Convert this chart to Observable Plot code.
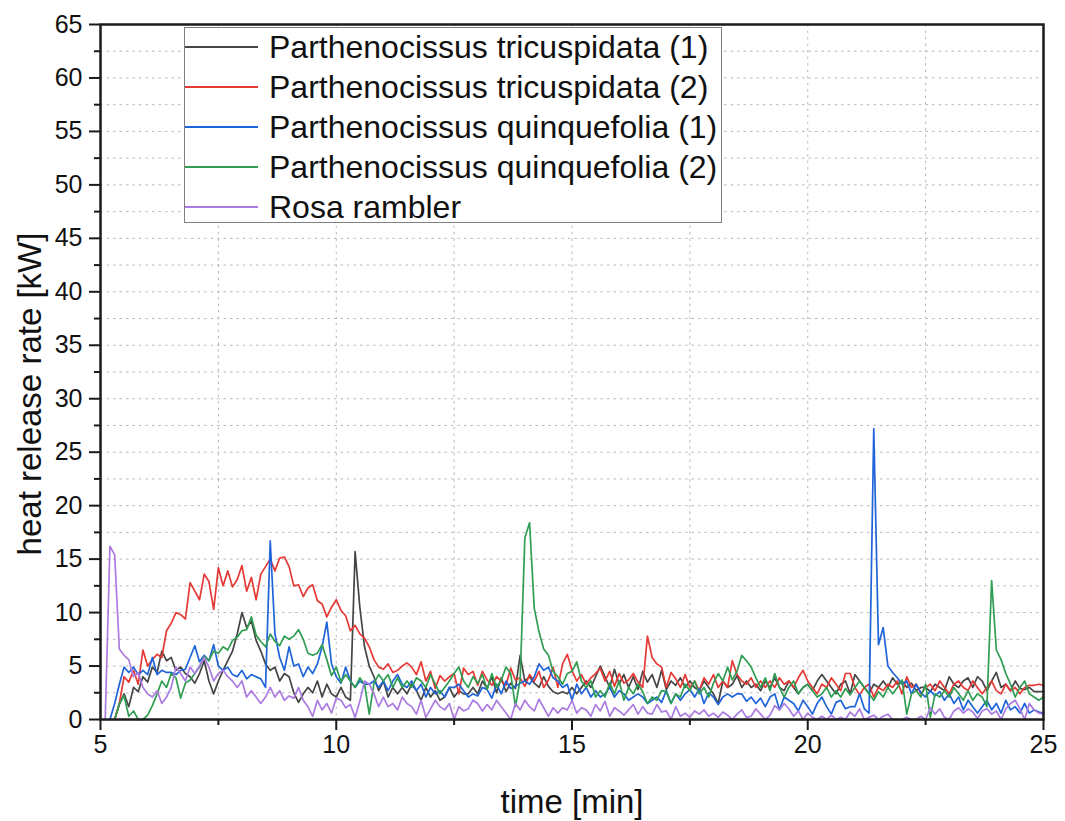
<!DOCTYPE html>
<html><head><meta charset="utf-8">
<script src="https://cdn.jsdelivr.net/npm/d3@7"></script>
<script src="https://cdn.jsdelivr.net/npm/@observablehq/plot@0.6"></script>
<style>
body{margin:0;background:#fff;font-family:"Liberation Sans",Arial,sans-serif;}
#wrap{position:relative;width:1065px;height:821px;}
#legend{position:absolute;left:184px;top:27px;width:538px;height:196px;border:1px solid #808080;background:#fff;box-sizing:border-box;}
.row{position:absolute;left:0;height:40px;display:flex;align-items:center;}
.sw{width:73px;height:0;border-top:2px solid;}
.lab{margin-left:11px;font-size:32px;color:#111;white-space:nowrap;line-height:40px;}
</style></head>
<body><div id="wrap"></div>
<script>
const xTitle = "time [min]";
const yTitle = "heat release rate [kW]";
const seriesNames = ["Parthenocissus tricuspidata (1)","Parthenocissus tricuspidata (2)","Parthenocissus quinquefolia (1)","Parthenocissus quinquefolia (2)","Rosa rambler"];
const seriesColors = ["#454545","#e53935","#1f64d8","#2f9e52","#ab7be0"];
const xMajor = [5,10,15,20,25];
const xMinor = [7.5,12.5,17.5,22.5];
const yMajor = [0,5,10,15,20,25,30,35,40,45,50,55,60,65];
const yMinor = [2.5,7.5,12.5,17.5,22.5,27.5,32.5,37.5,42.5,47.5,52.5,57.5,62.5];
const xGrid = [7.5,10,12.5,15,17.5,20,22.5];
const yGrid = [2.5,5,7.5,10,12.5,15,17.5,20,22.5,25,27.5,30,32.5,35,37.5,40,42.5,45,47.5,50,52.5,55,57.5,60,62.5];

// sampling every 0.1 min from 5.0 to 25.0
const time = d3.range(0, 201).map(i => +(5 + i * 0.1).toFixed(1));

const tricuspidata1 = [
 null,null,null,0,1.4,2.4,1.2,3.0,2.6,4.0,
 3.5,4.9,4.4,6.4,5.5,5.8,4.6,4.9,4.3,4.0,
 3.4,4.3,5.5,3.6,2.4,3.6,4.6,5.5,6.4,8.0,
 10.0,8.6,9.2,7.4,6.4,5.2,4.6,4.9,3.6,4.3,
 4.0,2.5,1.6,2.4,3.0,2.5,3.6,2.1,3.3,2.4,
 2.1,3.0,2.1,1.8,15.7,10.5,6.8,5.0,4.0,2.7,
 3.6,2.1,3.0,2.4,3.0,2.4,3.3,2.7,1.8,3.0,
 2.1,2.7,1.8,2.1,3.0,2.1,2.7,2.4,2.4,3.0,
 2.4,3.6,2.9,4.0,2.5,3.9,2.6,3.4,2.9,6.0,
 3.6,4.0,3.4,3.0,4.0,3.1,2.6,2.4,2.6,2.4,
 3.0,2.4,3.0,3.6,3.0,4.0,5.0,4.0,3.0,4.7,
 3.3,4.2,3.0,4.0,2.8,4.5,3.5,4.2,3.0,4.6,
 2.8,3.6,3.2,3.9,3.0,3.6,3.0,2.7,3.6,3.0,
 2.4,1.5,3.6,3.0,3.3,4.1,3.0,3.6,3.0,3.3,
 2.7,3.6,3.0,3.9,3.0,2.7,3.6,3.0,2.4,3.0,
 3.3,2.7,3.6,4.2,3.6,3.0,2.4,3.3,3.6,2.4,
 4.2,3.6,3.0,2.4,3.3,3.0,3.6,3.0,3.9,3.3,
 3.6,3.0,3.4,2.7,3.0,3.0,2.6,3.3,3.0,2.7,
 4.0,3.3,3.0,3.6,3.9,3.0,4.0,3.6,2.7,3.6,
 4.4,3.0,3.3,2.7,3.6,2.9,2.8,3.0,2.6,2.6,
 2.6];

const tricuspidata2 = [
 null,null,null,0,1.5,4.0,3.5,4.6,3.3,6.5,
 5.0,5.6,6.1,5.8,8.3,9.0,10.0,9.8,9.4,12.8,
 12.0,11.2,13.6,12.9,10.3,14.2,12.5,13.9,12.4,13.1,
 14.4,12.0,13.3,11.2,13.6,14.3,15.0,13.9,15.1,15.2,
 14.3,12.5,12.6,11.5,12.3,12.6,11.1,10.8,9.6,10.5,
 11.2,10.2,9.7,8.3,8.8,8.0,7.6,6.8,5.6,4.9,
 4.7,5.2,4.4,4.6,5.0,5.3,4.9,4.2,5.4,3.6,
 4.5,2.9,4.1,3.6,4.0,4.3,2.4,4.8,4.2,4.5,
 3.2,4.5,3.7,3.2,4.0,3.6,3.2,4.8,3.7,3.9,
 3.1,4.2,3.6,4.5,3.0,3.7,4.9,3.0,5.2,6.1,
 4.6,3.6,4.2,3.3,3.9,4.3,4.8,3.6,4.5,3.1,
 4.3,3.4,3.7,4.3,3.5,3.0,7.8,5.8,5.2,4.9,
 3.0,4.4,3.8,3.0,4.2,3.0,3.6,2.7,3.9,3.3,
 4.2,3.0,3.6,3.0,5.5,4.2,3.6,3.3,3.9,3.0,
 3.6,3.0,3.6,3.0,3.9,3.3,3.6,3.0,3.9,4.6,
 3.6,3.0,2.4,3.3,3.0,3.9,3.3,2.7,4.3,4.3,
 3.0,2.3,3.0,3.3,2.1,3.0,2.7,3.3,3.0,3.6,
 2.4,4.0,3.0,3.3,2.4,3.0,3.3,2.7,3.6,3.0,
 2.4,3.3,3.6,3.0,2.7,3.6,3.0,2.4,3.0,3.6,
 2.7,2.4,3.3,2.7,3.0,2.4,3.0,3.2,3.2,3.3,
 3.2];

const quinquefolia1 = [
 null,null,0,1.5,3.3,4.9,4.4,4.9,4.2,4.6,
 4.2,5.8,4.2,4.6,4.4,4.4,4.2,4.6,4.7,5.8,
 6.9,5.4,6.0,5.5,7.0,5.0,4.6,4.9,4.2,4.0,
 4.6,3.8,4.2,4.0,3.8,3.0,16.7,8.0,5.8,4.6,
 6.8,5.0,5.2,4.0,4.9,4.3,5.2,6.8,9.1,5.2,
 4.0,3.4,4.9,3.6,3.0,3.6,3.3,3.3,3.6,3.0,
 3.6,2.7,3.6,4.2,3.3,3.0,3.6,2.7,3.3,2.1,
 3.0,2.4,2.7,2.1,3.0,3.0,3.3,2.7,2.1,2.4,
 2.2,3.0,2.8,2.0,3.3,2.4,3.6,2.9,3.1,3.4,
 3.6,3.3,4.0,5.2,4.6,4.9,3.9,3.6,3.0,3.3,
 1.8,3.3,2.4,3.0,2.1,2.7,2.1,2.4,3.0,2.1,
 2.7,2.4,1.8,2.1,2.4,2.1,1.5,1.8,2.1,1.6,
 2.7,1.5,2.4,1.8,2.4,2.8,2.1,2.9,1.5,2.5,
 2.1,1.4,2.1,2.4,2.1,2.4,2.4,1.7,2.1,1.5,
 2.0,1.2,2.1,2.4,0.9,2.1,1.8,1.5,0.8,1.8,
 1.2,0.5,1.5,2.1,1.2,0.5,1.6,1.8,1.0,1.2,
 1.2,2.4,1.0,0.6,27.2,7.0,8.6,5.0,4.4,3.9,
 3.3,3.6,2.4,3.3,2.5,2.1,2.7,2.2,2.6,1.8,
 2.4,1.5,2.1,0.9,1.8,1.2,0.6,1.2,1.8,0.9,
 1.5,0.6,1.8,0.9,1.2,0.6,1.5,0.6,0.9,0.7,
 0.6];

const quinquefolia2 = [
 null,null,null,0,1.5,2.2,0.3,0.8,0,0,
 0.4,1.3,2.4,3.6,3.0,4.3,3.9,2.0,3.4,3.7,
 4.3,4.9,5.9,5.5,6.4,6.2,6.8,6.5,7.4,7.7,
 8.3,8.4,9.6,7.9,7.3,6.8,8.0,7.3,6.9,7.8,
 7.5,7.8,8.4,7.5,6.2,6.0,6.2,7.0,5.6,4.1,
 4.9,3.5,4.2,3.6,3.0,3.9,3.3,0.5,3.4,4.2,
 3.6,4.2,3.0,3.9,3.0,3.6,3.0,3.9,3.6,3.0,
 4.2,3.3,2.4,3.0,3.6,4.3,4.9,3.6,3.0,4.0,
 3.4,4.2,2.8,4.3,3.0,3.7,4.9,4.3,1.2,3.7,
 17.0,18.4,10.4,8.2,6.6,6.0,4.5,4.0,3.3,4.3,
 4.5,5.4,3.6,3.0,3.6,2.1,2.7,2.1,3.4,2.4,
 3.6,1.8,3.0,2.4,3.3,2.6,1.5,2.1,1.8,2.7,
 2.6,1.5,2.4,2.1,3.3,2.7,3.6,2.4,3.0,2.1,
 3.4,4.3,3.6,4.9,3.7,4.5,6.0,5.5,4.9,3.9,
 3.0,3.9,2.7,4.3,3.0,2.1,3.0,3.6,2.4,3.0,
 3.3,2.7,2.1,2.4,3.0,2.1,2.7,2.1,2.9,2.3,
 3.0,3.6,3.0,2.4,1.8,2.6,2.1,3.0,2.4,3.0,
 3.7,0.5,2.4,2.7,2.1,3.3,0.2,2.4,2.1,2.7,
 2.1,3.0,2.4,1.8,2.7,1.8,2.4,2.1,1.2,13.0,
 6.5,5.6,4.3,3.3,2.1,3.0,3.6,2.4,2.1,1.8,
 2.1];

const rosaRambler = [
 null,0,16.2,15.4,6.6,6.0,5.6,4.0,4.4,3.0,
 2.4,2.1,2.7,1.5,2.1,3.0,4.9,4.3,3.6,4.9,
 4.3,5.0,5.8,4.9,3.6,4.3,4.6,4.0,3.6,3.0,
 3.6,2.1,2.7,2.1,1.5,2.1,3.0,2.1,2.7,1.8,
 2.2,2.0,3.0,1.8,1.2,0.3,1.8,0.9,1.5,0.6,
 2.0,1.8,1.1,1.4,0.2,1.7,3.6,3.3,2.4,1.2,
 2.1,1.2,1.5,0.9,2.1,1.5,1.2,0.5,1.8,0.2,
 1.0,1.8,1.2,0.9,1.5,0,1.2,0.8,1.0,1.8,
 1.5,0.8,1.4,0.9,1.8,1.2,0.6,0,1.5,0.9,
 1.8,1.2,0.8,1.9,1.1,0.3,1.1,0.6,1.1,0.9,
 1.8,0.6,1.1,0.9,0.3,1.4,0.8,1.7,0.3,1.1,
 0.8,0.4,0.9,1.4,0.5,1.2,0.6,0.5,1.4,0.7,
 0.8,0,1.2,0.3,0.6,0.2,0.8,0.5,0.9,0.3,
 0.6,0.2,0.7,0.4,0,0.5,0.9,0.2,0.3,1.0,
 0.5,0,0.4,1.3,0.9,1.5,1.0,0.3,0.8,0,
 0.6,0.2,0,0.3,0,0.4,0,0.2,0,0.7,
 0.3,1.0,0,0.2,0.4,0,0.3,0.5,0,0,
 0,0.2,0,0,0.3,0,1.1,0.5,1.0,0.2,
 0,0.8,1.1,0.6,1.0,0.7,0.1,0.8,1.0,0.5,
 0.8,0,1.0,1.5,1.8,1.0,0,1.5,0.9,0.6,
 0.5];

const seriesValues = [tricuspidata1, tricuspidata2, quinquefolia1, quinquefolia2, rosaRambler];
const rows = seriesNames.flatMap((name, k) => time.map((t, i) => ({t, v: seriesValues[k][i], name})));

const font = '"Liberation Sans", Arial, sans-serif';
const chart = Plot.plot({
  width: 1065, height: 821,
  marginLeft: 100, marginRight: 22, marginTop: 24, marginBottom: 102,
  x: {domain: [5, 25]},
  y: {domain: [0, 65]},
  color: {domain: seriesNames, range: seriesColors},
  style: {fontFamily: font, background: "#fff", color: "#111", overflow: "visible"},
  marks: [
    Plot.gridX(xGrid, {stroke: "#b8b8b8", strokeOpacity: 1, strokeDasharray: "2.5,4"}),
    Plot.gridY(yGrid, {stroke: "#b8b8b8", strokeOpacity: 1, strokeDasharray: "2.5,4"}),
    Plot.line(rows, {x: "t", y: "v", z: "name", stroke: "name", strokeWidth: 1.7}),
    Plot.frame({stroke: "#1a1a1a", strokeWidth: 2.5}),
    Plot.axisX(xMajor, {anchor: "bottom", tickSize: 11, tickPadding: 5, strokeWidth: 2, stroke: "#1a1a1a", fontSize: 25, fill: "#111", label: null}),
    Plot.axisX(xMinor, {anchor: "bottom", tickSize: 6, strokeWidth: 2, stroke: "#1a1a1a", text: null, label: null}),
    Plot.axisY(yMajor, {anchor: "left", tickSize: 11, tickPadding: 7, strokeWidth: 2, stroke: "#1a1a1a", fontSize: 25, fill: "#111", label: null}),
    Plot.axisY(yMinor, {anchor: "left", tickSize: 6, strokeWidth: 2, stroke: "#1a1a1a", text: null, label: null}),
    Plot.text([xTitle], {text: d => d, frameAnchor: "bottom", lineAnchor: "bottom", dy: 93, fontSize: 33, fill: "#111"}),
    Plot.text([yTitle], {text: d => d, frameAnchor: "left", textAnchor: "middle", dx: -70, dy: 22, rotate: -90, fontSize: 33, fill: "#111"})
  ]
});
const wrap = document.getElementById("wrap");
wrap.appendChild(chart);

const legend = document.createElement("div");
legend.id = "legend";
seriesNames.forEach((name, i) => {
  const row = document.createElement("div");
  row.className = "row";
  row.style.top = (-1 + 40 * i) + "px";
  const sw = document.createElement("div");
  sw.className = "sw";
  sw.style.borderTopColor = seriesColors[i];
  const lab = document.createElement("span");
  lab.className = "lab";
  lab.textContent = name;
  row.appendChild(sw); row.appendChild(lab);
  legend.appendChild(row);
});
wrap.appendChild(legend);
</script>
</body></html>
